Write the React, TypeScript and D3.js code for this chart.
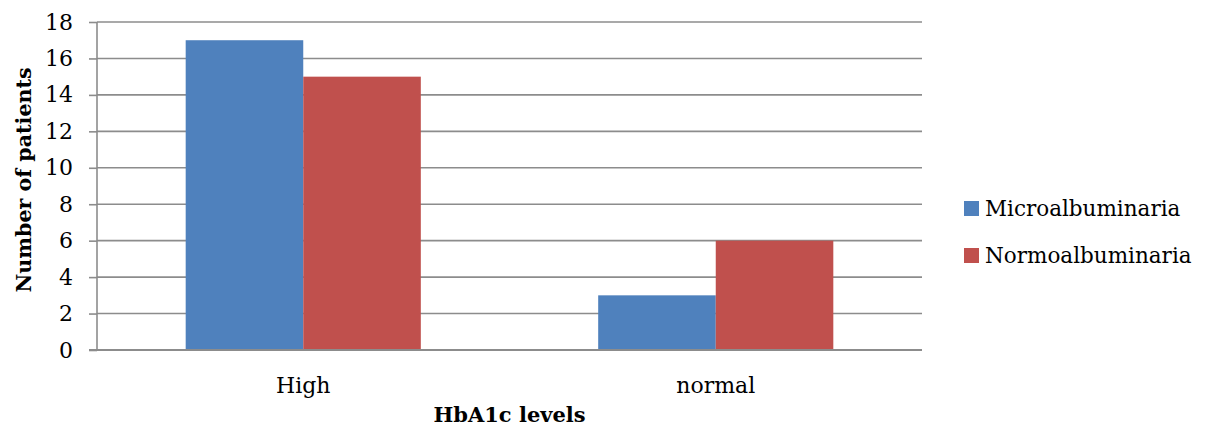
import React, { useEffect, useRef } from 'react';
import * as d3 from 'd3';

const categories = ['High', 'normal'];
const seriesNames = ['Microalbuminaria', 'Normoalbuminaria'];
const microValues = [17, 3];
const normoValues = [15, 6];
const yTicks = [0, 2, 4, 6, 8, 10, 12, 14, 16, 18];
const colors = ['#4F81BD', '#C0504D'];

const FONT = '"DejaVu Serif", serif';

export default function App() {
  const svgRef = useRef<SVGSVGElement>(null);

  useEffect(() => {
    document.body.style.margin = '0';
    if (!svgRef.current) return;

    const W = 1212;
    const H = 436;
    const margin = { top: 22, right: 290, bottom: 86, left: 97 };
    const width = W - margin.left - margin.right;
    const height = H - margin.top - margin.bottom;

    d3.select(svgRef.current).selectAll('*').remove();

    const svg = d3
      .select(svgRef.current)
      .attr('width', W)
      .attr('height', H)
      .style('font-family', FONT);

    const g = svg.append('g').attr('transform', `translate(${margin.left},${margin.top})`);

    const x0 = d3.scaleBand().domain(categories).range([0, width]).paddingInner(0).paddingOuter(0);
    const groupWidth = x0.bandwidth() * 0.57;
    const x1 = d3.scaleBand().domain(seriesNames).range([0, groupWidth]).padding(0);
    const y = d3.scaleLinear().domain([0, 18]).range([height, 0]);

    // Gridlines
    g.append('g')
      .selectAll('line')
      .data(yTicks.filter((d) => d > 0))
      .enter()
      .append('line')
      .attr('x1', 0)
      .attr('x2', width)
      .attr('y1', (d) => y(d))
      .attr('y2', (d) => y(d))
      .attr('stroke', '#8c8c8c')
      .attr('stroke-width', 1.6);

    const data = categories.map((c, i) => ({
      category: c,
      values: [microValues[i], normoValues[i]],
    }));

    // Bars
    const groups = g
      .selectAll('.grp')
      .data(data)
      .enter()
      .append('g')
      .attr('class', 'grp')
      .attr('transform', (d) => `translate(${x0(d.category)! + (x0.bandwidth() - groupWidth) / 2},0)`);

    groups
      .selectAll('rect')
      .data((d) => d.values.map((v, i) => ({ name: seriesNames[i], value: v, idx: i })))
      .enter()
      .append('rect')
      .attr('x', (d) => x1(d.name)!)
      .attr('width', x1.bandwidth())
      .attr('y', (d) => y(d.value))
      .attr('height', (d) => height - y(d.value))
      .attr('fill', (d) => colors[d.idx]);

    // Y axis
    const yAxis = g
      .append('g')
      .call(d3.axisLeft(y).tickValues(yTicks).tickSize(8).tickPadding(16).tickFormat(d3.format('d')));
    yAxis.select('.domain').attr('stroke', '#8c8c8c').attr('stroke-width', 1.6).attr('d', `M0,0V${height}`);
    yAxis.selectAll('.tick line').attr('stroke', '#8c8c8c').attr('stroke-width', 1.6);
    yAxis
      .selectAll('.tick text')
      .attr('fill', '#000')
      .style('font-size', '22px')
      .style('font-family', FONT);

    // Zero / x axis line
    g.append('line')
      .attr('x1', -8)
      .attr('x2', width)
      .attr('y1', height)
      .attr('y2', height)
      .attr('stroke', '#8c8c8c')
      .attr('stroke-width', 2);

    // Category labels
    g.selectAll('.cat')
      .data(categories)
      .enter()
      .append('text')
      .attr('class', 'cat')
      .attr('x', (d) => x0(d)! + x0.bandwidth() / 2)
      .attr('y', height + 43)
      .attr('text-anchor', 'middle')
      .style('font-size', '22px')
      .text((d) => d);

    // Axis titles
    svg
      .append('text')
      .attr('x', margin.left + width / 2)
      .attr('y', 422)
      .attr('text-anchor', 'middle')
      .style('font-size', '21px')
      .style('font-weight', 'bold')
      .text('HbA1c levels');

    svg
      .append('text')
      .attr('transform', `translate(31,180) rotate(-90)`)
      .attr('text-anchor', 'middle')
      .style('font-size', '20.6px')
      .style('font-weight', 'bold')
      .text('Number of patients');

    // Legend
    const legend = svg
      .selectAll('.leg')
      .data(seriesNames)
      .enter()
      .append('g')
      .attr('class', 'leg')
      .attr('transform', (d, i) => `translate(964,${208 + i * 47})`);

    legend
      .append('rect')
      .attr('x', 0)
      .attr('y', -7)
      .attr('width', 15)
      .attr('height', 15)
      .attr('fill', (d, i) => colors[i]);

    legend
      .append('text')
      .attr('x', 21)
      .attr('y', 8)
      .style('font-size', '21.5px')
      .text((d) => d);
  }, []);

  return <svg ref={svgRef} style={{ display: 'block' }}></svg>;
}
